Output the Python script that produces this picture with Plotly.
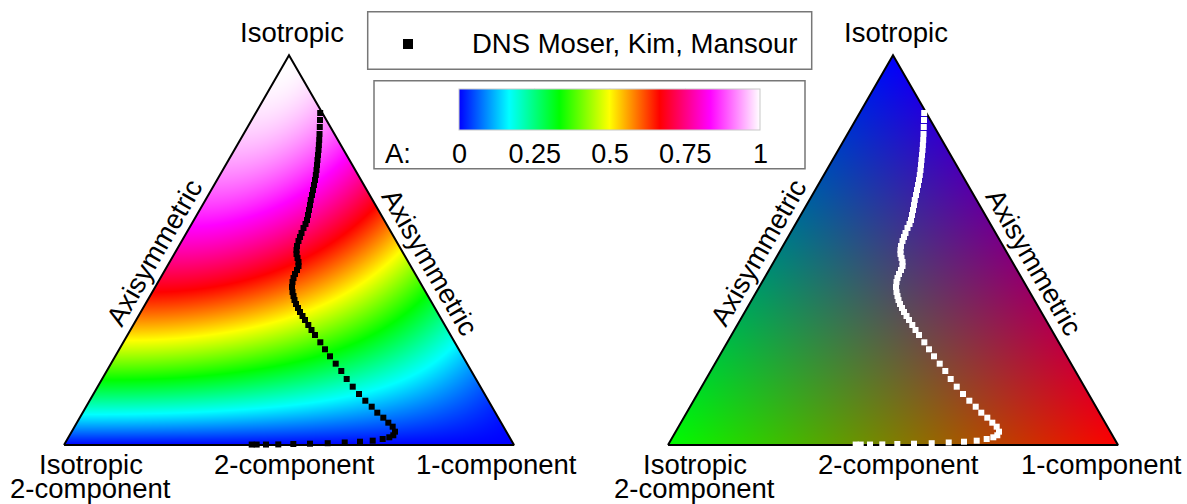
import numpy as np
import plotly.graph_objects as go
import zlib, struct, base64

# ---------------- data ----------------
# DNS (Moser, Kim, Mansour) trajectory in barycentric-map coordinates
# x: 0 = 2-component vertex, 1 = 1-component vertex ; y: height (isotropic vertex at sqrt(3)/2)
dns_x = [0.4171, 0.4282, 0.4489, 0.4762, 0.5096, 0.5467, 0.5860, 0.6238, 0.6578, 0.6860,
         0.7082, 0.7229, 0.7318, 0.7356, 0.7304, 0.7207, 0.7096, 0.6962, 0.6838, 0.6696,
         0.6556, 0.6416, 0.6282, 0.6162, 0.6038, 0.5911, 0.5800, 0.5696, 0.5578, 0.5500,
         0.5429, 0.5356, 0.5300, 0.5244, 0.5200, 0.5156, 0.5122, 0.5100, 0.5078, 0.5067,
         0.5078, 0.5100, 0.5133, 0.5178, 0.5211, 0.5211, 0.5189, 0.5167, 0.5167, 0.5178,
         0.5211, 0.5244, 0.5278, 0.5322, 0.5367, 0.5400, 0.5422, 0.5444, 0.5467, 0.5484,
         0.5511, 0.5533, 0.5556, 0.5578, 0.5596, 0.5611, 0.5622, 0.5633, 0.5644, 0.5656,
         0.5664, 0.5671, 0.5678, 0.5684, 0.5689, 0.5693]
dns_y = [0.0010, 0.0010, 0.0010, 0.0013, 0.0022, 0.0029, 0.0040, 0.0056, 0.0073, 0.0096,
         0.0133, 0.0171, 0.0216, 0.0296, 0.0407, 0.0496, 0.0607, 0.0718, 0.0851, 0.0984,
         0.1133, 0.1296, 0.1467, 0.1644, 0.1807, 0.1971, 0.2127, 0.2282, 0.2444, 0.2556,
         0.2667, 0.2778, 0.2867, 0.2956, 0.3044, 0.3133, 0.3222, 0.3311, 0.3400, 0.3511,
         0.3622, 0.3711, 0.3800, 0.3889, 0.3978, 0.4067, 0.4156, 0.4244, 0.4333, 0.4422,
         0.4533, 0.4622, 0.4711, 0.4822, 0.4911, 0.5000, 0.5111, 0.5222, 0.5333, 0.5444,
         0.5556, 0.5667, 0.5778, 0.5889, 0.6000, 0.6111, 0.6222, 0.6333, 0.6444, 0.6556,
         0.6667, 0.6778, 0.6911, 0.7067, 0.7222, 0.7378]

colorbar_ticks = [0, 0.25, 0.5, 0.75, 1]
colorbar_ticktext = ["0", "0.25", "0.5", "0.75", "1"]
legend_name = "DNS Moser, Kim, Mansour"

A_colorscale = [[0, "#0000ff"], [1/6, "#00ffff"], [2/6, "#00ff00"], [3/6, "#ffff00"],
                [4/6, "#ff0000"], [5/6, "#ff00ff"], [1, "#ffffff"]]

# ---------------- geometry / fields ----------------
H = np.sqrt(3) / 2
tri_x = [0, 1, 0.5, 0]
tri_y = [0, 0, H, 0]

NX, NY = 450, 390
gx = (np.arange(NX) + 0.5) / NX
gy = (np.arange(NY) + 0.5) / NY * H
GX, GY = np.meshgrid(gx, gy)
C3 = GY / H
C1 = GX - 0.5 * C3
C2 = 1 - C1 - C3
inside = (C1 >= 0) & (C2 >= 0)
l3 = (C3 - 1) / 3
l2 = C2 / 2 + l3
l1 = C1 + l2
A = 27 * (l1 + 1/3) * (l2 + 1/3) * (l3 + 1/3)
A = np.where(inside, np.clip(A, 0, 1), np.nan)

# RGB barycentric colouring for right map
rgba = np.zeros((NY, NX, 4), dtype=np.uint8)
rgba[..., 0] = np.clip(C1 * 255, 0, 255)
rgba[..., 1] = np.clip(C2 * 255, 0, 255)
rgba[..., 2] = np.clip(C3 * 255, 0, 255)
rgba[..., 3] = np.where(inside, 255, 0)
rgba = rgba[::-1]  # top row first


def to_png(arr):
    h, w, _ = arr.shape
    raw = b"".join(b"\x00" + arr[i].tobytes() for i in range(h))

    def chunk(t, d):
        return struct.pack(">I", len(d)) + t + d + struct.pack(">I", zlib.crc32(t + d) & 0xffffffff)
    return (b"\x89PNG\r\n\x1a\n" + chunk(b"IHDR", struct.pack(">IIBBBBB", w, h, 8, 6, 0, 0, 0))
            + chunk(b"IDAT", zlib.compress(raw, 9)) + chunk(b"IEND", b""))


png_uri = "data:image/png;base64," + base64.b64encode(to_png(rgba)).decode()

# ---------------- figure ----------------
W, HT = 1187, 504
FONT = "Liberation Sans, Arial, sans-serif"
FS = 27.5


def px(x):
    return x / W


def py(y):
    return 1 - y / HT


fig = go.Figure()

fig.add_trace(go.Heatmap(
    x=gx, y=gy, z=A, zmin=0, zmax=1, colorscale=A_colorscale, hoverinfo="skip",
    xaxis="x", yaxis="y",
    colorbar=dict(orientation="h", x=px(610), xanchor="center", y=py(88.7), yanchor="top",
                  len=301.4, lenmode="pixels", thickness=41, thicknessmode="pixels",
                  xpad=0, ypad=0, outlinewidth=1, outlinecolor="#c8c8c8",
                  tickvals=colorbar_ticks, ticktext=colorbar_ticktext, ticks="",
                  tickfont=dict(size=27, family=FONT, color="black"))))

for ax in ["x", "x2"]:
    yax = "y" if ax == "x" else "y2"
    fig.add_trace(go.Scatter(x=tri_x, y=tri_y, mode="lines", line=dict(color="black", width=2),
                             xaxis=ax, yaxis=yax, showlegend=False, hoverinfo="skip"))

fig.add_trace(go.Scatter(x=dns_x, y=dns_y, mode="markers", name=legend_name,
                         marker=dict(symbol="square", size=6, color="black", line=dict(width=0)),
                         xaxis="x", yaxis="y", showlegend=False, cliponaxis=False))
fig.add_trace(go.Scatter(x=dns_x, y=dns_y, mode="markers", name=legend_name,
                         marker=dict(symbol="square", size=6, color="white", line=dict(width=0)),
                         xaxis="x2", yaxis="y2", showlegend=False, cliponaxis=False))

fig.add_layout_image(dict(source=png_uri, xref="x2", yref="y2", x=0, y=H, sizex=1, sizey=H,
                          xanchor="left", yanchor="top", sizing="stretch", layer="below"))

ax_common = dict(visible=False, fixedrange=True, showgrid=False, zeroline=False)
fig.update_layout(
    width=W, height=HT, margin=dict(l=0, r=0, t=0, b=0),
    paper_bgcolor="white", plot_bgcolor="rgba(0,0,0,0)", showlegend=False,
    font=dict(family=FONT, size=FS, color="black"),
    xaxis=dict(domain=[0, 0.5], range=[-64/450, 529.5/450], **ax_common),
    yaxis=dict(domain=[0, 1], range=[-59/450, 445/450], **ax_common),
    xaxis2=dict(domain=[0.5, 1], range=[(593.5-668)/450, (1187-668)/450], **ax_common),
    yaxis2=dict(domain=[0, 1], range=[-59/450, 445/450], anchor="x2", **ax_common),
)

shapes = []
# legend box + marker
shapes.append(dict(type="rect", xref="paper", yref="paper", x0=px(367.7), x1=px(811.7),
                   y0=py(69.3), y1=py(11.7), line=dict(color="#777777", width=1.5)))
shapes.append(dict(type="rect", xref="paper", yref="paper", x0=px(403), x1=px(413),
                   y0=py(49), y1=py(39), fillcolor="black", line=dict(width=0)))
# colorbar box
shapes.append(dict(type="rect", xref="paper", yref="paper", x0=px(374), x1=px(805),
                   y0=py(168.7), y1=py(80.7), line=dict(color="#777777", width=1.5)))
for t in colorbar_ticks[1:-1]:
    xx = 459.3 + 301.4 * t
    shapes.append(dict(type="line", xref="paper", yref="paper", x0=px(xx), x1=px(xx),
                       y0=py(129.7), y1=py(88.7), line=dict(color="rgba(0,0,0,0.18)", width=1)))
fig.update_layout(shapes=shapes)

ann = []


def label(text, x, y, angle=0, xanchor="center"):
    ann.append(dict(text=text, x=px(x), y=py(y), xref="paper", yref="paper", showarrow=False,
                    xanchor=xanchor, yanchor="middle", textangle=angle,
                    font=dict(size=FS, family=FONT, color="black")))


label(legend_name, 470, 43, xanchor="left")
label("A:", 383, 153, xanchor="left")
for off in [0, 604]:
    label("Isotropic", 292 + off, 33)
    label("Isotropic", 91 + off, 464)
    label("2-component", 90 + off, 488)
    label("2-component", 294 + off, 464)
    label("1-component", 497 + off, 464)
    label("Axisymmetric", 154 + off, 252, -60)
    label("Axisymmetric", 430 + off, 262.5, 60)
fig.update_layout(annotations=ann)

fig.write_html("out.html")
